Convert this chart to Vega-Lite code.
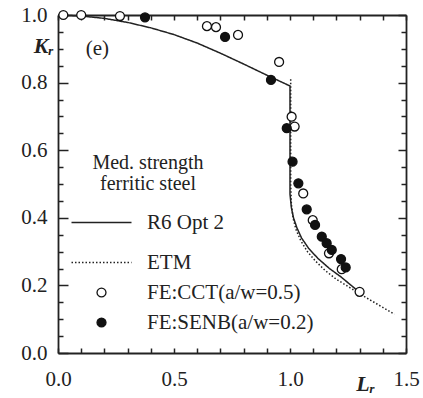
{
  "$schema": "https://vega.github.io/schema/vega-lite/v6.json",
  "width": 348,
  "height": 338,
  "autosize": {"type": "none"},
  "padding": {"left": 58, "top": 15, "right": 17, "bottom": 45},
  "background": "white",
  "config": {
    "view": {"stroke": null},
    "font": "Liberation Serif",
    "axis": {
      "labelFont": "Liberation Serif",
      "labelFontSize": 21,
      "labelColor": "#222",
      "domainColor": "#222",
      "domainWidth": 1.8,
      "tickColor": "#222",
      "tickWidth": 1.5,
      "grid": false,
      "titleFont": "Liberation Serif",
      "titleColor": "#222"
    },
    "legend": {
      "labelFont": "Liberation Serif",
      "titleFont": "Liberation Serif",
      "labelLimit": 400,
      "titleLimit": 400
    },
    "text": {"font": "Liberation Serif"}
  },
  "datasets": {
    "lines": [
      {"s": "R6 Opt 2", "i": 0, "x": 0.0, "y": 1.0},
      {"s": "R6 Opt 2", "i": 1, "x": 0.1, "y": 0.997},
      {"s": "R6 Opt 2", "i": 2, "x": 0.2, "y": 0.99},
      {"s": "R6 Opt 2", "i": 3, "x": 0.3, "y": 0.978},
      {"s": "R6 Opt 2", "i": 4, "x": 0.4, "y": 0.962},
      {"s": "R6 Opt 2", "i": 5, "x": 0.5, "y": 0.942},
      {"s": "R6 Opt 2", "i": 6, "x": 0.6, "y": 0.917},
      {"s": "R6 Opt 2", "i": 7, "x": 0.7, "y": 0.887},
      {"s": "R6 Opt 2", "i": 8, "x": 0.8, "y": 0.855},
      {"s": "R6 Opt 2", "i": 9, "x": 0.9, "y": 0.822},
      {"s": "R6 Opt 2", "i": 10, "x": 1.0, "y": 0.79},
      {"s": "R6 Opt 2", "i": 11, "x": 1.0, "y": 0.47},
      {"s": "R6 Opt 2", "i": 12, "x": 1.006, "y": 0.43},
      {"s": "R6 Opt 2", "i": 13, "x": 1.015, "y": 0.4},
      {"s": "R6 Opt 2", "i": 14, "x": 1.03, "y": 0.37},
      {"s": "R6 Opt 2", "i": 15, "x": 1.05, "y": 0.34},
      {"s": "R6 Opt 2", "i": 16, "x": 1.08, "y": 0.31},
      {"s": "R6 Opt 2", "i": 17, "x": 1.12, "y": 0.28},
      {"s": "R6 Opt 2", "i": 18, "x": 1.17, "y": 0.25},
      {"s": "R6 Opt 2", "i": 19, "x": 1.22, "y": 0.225},
      {"s": "R6 Opt 2", "i": 20, "x": 1.29, "y": 0.185},
      {"s": "ETM", "i": 0, "x": 1.003, "y": 0.81},
      {"s": "ETM", "i": 1, "x": 1.003, "y": 0.5},
      {"s": "ETM", "i": 2, "x": 1.006, "y": 0.44},
      {"s": "ETM", "i": 3, "x": 1.013, "y": 0.4},
      {"s": "ETM", "i": 4, "x": 1.026, "y": 0.365},
      {"s": "ETM", "i": 5, "x": 1.046, "y": 0.333},
      {"s": "ETM", "i": 6, "x": 1.075, "y": 0.3},
      {"s": "ETM", "i": 7, "x": 1.11, "y": 0.272},
      {"s": "ETM", "i": 8, "x": 1.15, "y": 0.245},
      {"s": "ETM", "i": 9, "x": 1.2, "y": 0.218},
      {"s": "ETM", "i": 10, "x": 1.25, "y": 0.197},
      {"s": "ETM", "i": 11, "x": 1.3, "y": 0.175},
      {"s": "ETM", "i": 12, "x": 1.35, "y": 0.155},
      {"s": "ETM", "i": 13, "x": 1.4, "y": 0.135},
      {"s": "ETM", "i": 14, "x": 1.45, "y": 0.115}
    ],
    "pts": [
      {"s": "FE:CCT(a/w=0.5)", "x": 0.023, "y": 1.0},
      {"s": "FE:CCT(a/w=0.5)", "x": 0.1, "y": 1.0},
      {"s": "FE:CCT(a/w=0.5)", "x": 0.267, "y": 0.997},
      {"s": "FE:CCT(a/w=0.5)", "x": 0.642, "y": 0.967},
      {"s": "FE:CCT(a/w=0.5)", "x": 0.681, "y": 0.964},
      {"s": "FE:CCT(a/w=0.5)", "x": 0.776, "y": 0.941},
      {"s": "FE:CCT(a/w=0.5)", "x": 0.953, "y": 0.861},
      {"s": "FE:CCT(a/w=0.5)", "x": 1.007, "y": 0.699},
      {"s": "FE:CCT(a/w=0.5)", "x": 1.02, "y": 0.67},
      {"s": "FE:CCT(a/w=0.5)", "x": 1.057, "y": 0.472},
      {"s": "FE:CCT(a/w=0.5)", "x": 1.098, "y": 0.393},
      {"s": "FE:CCT(a/w=0.5)", "x": 1.168, "y": 0.295},
      {"s": "FE:CCT(a/w=0.5)", "x": 1.223, "y": 0.248},
      {"s": "FE:CCT(a/w=0.5)", "x": 1.3, "y": 0.181},
      {"s": "FE:SENB(a/w=0.2)", "x": 0.375, "y": 0.993},
      {"s": "FE:SENB(a/w=0.2)", "x": 0.72, "y": 0.935},
      {"s": "FE:SENB(a/w=0.2)", "x": 0.918, "y": 0.808},
      {"s": "FE:SENB(a/w=0.2)", "x": 0.986, "y": 0.665},
      {"s": "FE:SENB(a/w=0.2)", "x": 1.011, "y": 0.566},
      {"s": "FE:SENB(a/w=0.2)", "x": 1.036, "y": 0.502},
      {"s": "FE:SENB(a/w=0.2)", "x": 1.072, "y": 0.425},
      {"s": "FE:SENB(a/w=0.2)", "x": 1.108, "y": 0.379},
      {"s": "FE:SENB(a/w=0.2)", "x": 1.137, "y": 0.344},
      {"s": "FE:SENB(a/w=0.2)", "x": 1.158, "y": 0.325},
      {"s": "FE:SENB(a/w=0.2)", "x": 1.18, "y": 0.305},
      {"s": "FE:SENB(a/w=0.2)", "x": 1.22, "y": 0.278},
      {"s": "FE:SENB(a/w=0.2)", "x": 1.24, "y": 0.253}
    ],
    "notes": [
      {"label": "(e)", "x": 0.17, "y": 0.9}
    ]
  },
  "layer": [
    {
      "data": {"name": "lines"},
      "mark": {"type": "line", "color": "#222", "strokeWidth": 1.5},
      "encoding": {
        "x": {
          "field": "x", "type": "quantitative",
          "scale": {"domain": [0, 1.5], "nice": false, "zero": false},
          "axis": {
            "orient": "bottom",
            "values": [0, 0.1, 0.2, 0.3, 0.4, 0.5, 0.6, 0.7, 0.8, 0.9, 1.0, 1.1, 1.2, 1.3, 1.4, 1.5],
            "labelExpr": "abs(datum.value*2 - round(datum.value*2)) < 0.001 ? format(datum.value, '.1f') : ''",
            "tickSize": -5,
            "labelPadding": 20,
            "labelFlush": false,
            "labelOverlap": false,
            "title": "Lᵣ",
            "titleFontSize": 22,
            "titleFontStyle": "italic",
            "titleFontWeight": "bold",
            "titleX": 307,
            "titleY": 30,
            "titleAlign": "center",
            "titleBaseline": "middle"
          }
        },
        "y": {
          "field": "y", "type": "quantitative",
          "scale": {"domain": [0, 1], "nice": false, "zero": false},
          "axis": {
            "orient": "left",
            "values": [0, 0.05, 0.1, 0.15, 0.2, 0.25, 0.3, 0.35, 0.4, 0.45, 0.5, 0.55, 0.6, 0.65, 0.7, 0.75, 0.8, 0.85, 0.9, 0.95, 1.0],
            "labelExpr": "abs(datum.value*5 - round(datum.value*5)) < 0.001 ? format(datum.value, '.1f') : ''",
            "tickSize": {"condition": {"test": "abs(datum.value*5 - round(datum.value*5)) < 0.001", "value": -10}, "value": -5},
            "labelPadding": 21,
            "labelFlush": false,
            "labelOverlap": false,
            "title": "Kᵣ",
            "titleAngle": 0,
            "titleFontSize": 22,
            "titleFontStyle": "italic",
            "titleFontWeight": "bold",
            "titleX": -15,
            "titleY": 30,
            "titleAlign": "center",
            "titleBaseline": "middle"
          }
        },
        "strokeDash": {
          "field": "s", "type": "nominal",
          "scale": {"domain": ["R6 Opt 2", "ETM"], "range": [[1, 0], [1.5, 2]]},
          "legend": {
            "title": ["Med. strength", "ferritic steel"],
            "orient": "none",
            "legendX": 14,
            "legendY": 138,
            "padding": 0,
            "symbolType": "M-6,0H6",
            "symbolSize": 100,
            "symbolStrokeWidth": 1.5,
            "symbolStrokeColor": "#222",
            "symbolOffset": 19,
            "labelOffset": 35,
            "rowPadding": 18,
            "labelFontSize": 21,
            "labelColor": "#222",
            "titleFontSize": 20,
            "titleFontWeight": "normal",
            "titleColor": "#222",
            "titleLineHeight": 21,
            "titleAnchor": "middle",
            "titleAlign": "center",
            "titlePadding": 18
          }
        },
        "order": {"field": "i", "type": "quantitative"}
      }
    },
    {
      "data": {"name": "pts"},
      "mark": {"type": "circle", "size": 80, "stroke": "#111", "strokeWidth": 1.3, "opacity": 1},
      "encoding": {
        "x": {
          "field": "x", "type": "quantitative",
          "axis": {
            "orient": "top",
            "values": [0, 0.1, 0.2, 0.3, 0.4, 0.5, 0.6, 0.7, 0.8, 0.9, 1.0, 1.1, 1.2, 1.3, 1.4, 1.5],
            "labels": false,
            "title": null,
            "tickSize": -5
          }
        },
        "y": {
          "field": "y", "type": "quantitative",
          "axis": {
            "orient": "right",
            "values": [0, 0.05, 0.1, 0.15, 0.2, 0.25, 0.3, 0.35, 0.4, 0.45, 0.5, 0.55, 0.6, 0.65, 0.7, 0.75, 0.8, 0.85, 0.9, 0.95, 1.0],
            "labels": false,
            "title": null,
            "tickSize": {"condition": {"test": "abs(datum.value*5 - round(datum.value*5)) < 0.001", "value": -8}, "value": -5}
          }
        },
        "fill": {
          "field": "s", "type": "nominal",
          "scale": {"domain": ["FE:CCT(a/w=0.5)", "FE:SENB(a/w=0.2)"], "range": ["white", "#111"]},
          "legend": {
            "title": null,
            "orient": "none",
            "legendX": 14,
            "legendY": 267,
            "padding": 0,
            "symbolType": "circle",
            "symbolSize": 80,
            "symbolStrokeColor": "#111",
            "symbolStrokeWidth": 1.3,
            "symbolOffset": 19,
            "labelOffset": 35,
            "rowPadding": 8,
            "labelFontSize": 21,
            "labelColor": "#222"
          }
        }
      }
    },
    {
      "data": {"name": "notes"},
      "mark": {"type": "text", "fontSize": 21, "color": "#222"},
      "encoding": {
        "x": {"field": "x", "type": "quantitative", "axis": null},
        "y": {"field": "y", "type": "quantitative", "axis": null},
        "text": {"field": "label"}
      }
    }
  ],
  "resolve": {"axis": {"x": "independent", "y": "independent"}}
}
